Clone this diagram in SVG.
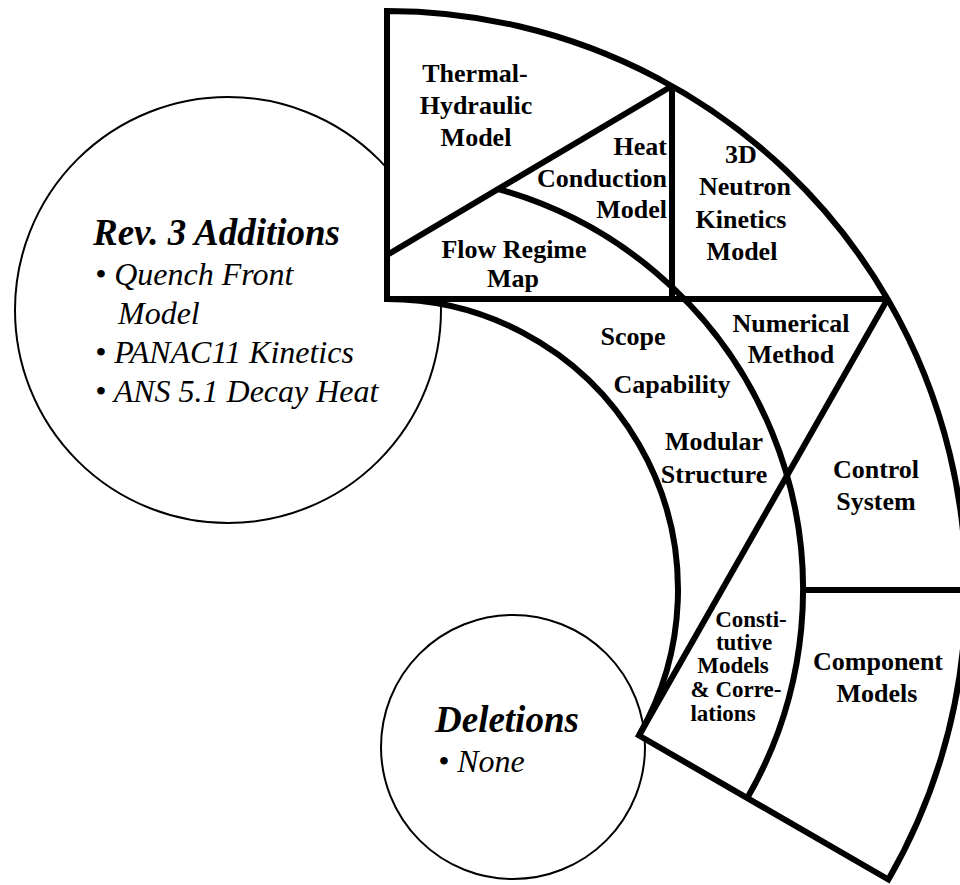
<svg xmlns="http://www.w3.org/2000/svg" width="960" height="885" viewBox="0 0 960 885">
<style>
.circ{fill:#fff;stroke:#000;stroke-width:2}
.ring{fill:#fff;stroke:#000;stroke-width:6;stroke-linejoin:miter}
.div{fill:none;stroke:#000;stroke-width:6;stroke-linecap:butt}
.lbl{font-family:"Liberation Serif","Times New Roman",serif;font-weight:bold;font-size:26px;fill:#000;text-anchor:middle}
.sm{font-size:23px}
.rt{text-anchor:end}
.head{font-family:"Liberation Serif","Times New Roman",serif;font-weight:bold;font-style:italic;font-size:37px;fill:#000}
.item{font-family:"Liberation Serif","Times New Roman",serif;font-style:italic;font-size:32px;fill:#000}
</style>
<rect width="960" height="885" fill="#fff"/>
<g id="rev3-additions">
<circle class="circ" cx="228" cy="310" r="213"/>
</g>
<g id="deletions">
<circle class="circ" cx="513" cy="747" r="132"/>
</g>
<g id="ring">
<path class="ring" d="M 387 11 A 579 579 0 0 1 888.4 879.5 L 639 735.5 A 291 291 0 0 0 387 299 Z"/>
</g>
<g id="connectors">
<line class="div" x1="387" y1="299" x2="887.6" y2="299"/>
<line class="div" x1="387" y1="255" x2="672" y2="86"/>
<line class="div" x1="672" y1="86" x2="672" y2="299"/>
<path class="div" d="M 498.1 189.1 A 416 416 0 0 1 747.3 798"/>
<line class="div" x1="887.6" y1="299" x2="639" y2="735.5"/>
<line class="div" x1="803" y1="590" x2="966" y2="590"/>
</g>
<g id="thermal-hydraulic">
<text class="lbl" x="475" y="82">Thermal-</text>
<text class="lbl" x="476" y="114">Hydraulic</text>
<text class="lbl" x="476" y="146">Model</text>
</g>
<g id="heat-conduction">
<text class="lbl rt" x="667" y="155">Heat</text>
<text class="lbl rt" x="667" y="187">Conduction</text>
<text class="lbl rt" x="667" y="218">Model</text>
</g>
<g id="flow-regime">
<text class="lbl" x="514" y="258">Flow Regime</text>
<text class="lbl" x="513" y="287">Map</text>
</g>
<g id="neutron-kinetics">
<text class="lbl" x="741" y="163">3D</text>
<text class="lbl" x="745" y="195">Neutron</text>
<text class="lbl" x="741" y="228">Kinetics</text>
<text class="lbl" x="742" y="260">Model</text>
</g>
<g id="numerical-method">
<text class="lbl" x="791" y="332">Numerical</text>
<text class="lbl" x="791" y="363">Method</text>
</g>
<g id="scope">
<text class="lbl" x="633" y="345">Scope</text>
<text class="lbl" x="672" y="393">Capability</text>
<text class="lbl" x="714" y="450">Modular</text>
<text class="lbl" x="714" y="483">Structure</text>
</g>
<g id="control-system">
<text class="lbl" x="876" y="478">Control</text>
<text class="lbl" x="876" y="510">System</text>
</g>
<g id="constitutive">
<text class="lbl sm" x="751" y="627">Consti-</text>
<text class="lbl sm" x="744" y="650">tutive</text>
<text class="lbl sm" x="733" y="673">Models</text>
<text class="lbl sm" x="736" y="697">&amp; Corre-</text>
<text class="lbl sm" x="723" y="721">lations</text>
</g>
<g id="component-models">
<text class="lbl" x="878" y="670">Component</text>
<text class="lbl" x="877" y="702">Models</text>
</g>
<g id="rev3-text">
<text class="head" x="93" y="245">Rev. 3 Additions</text>
<text class="item" x="95" y="285">• Quench Front</text>
<text class="item" x="118" y="324">Model</text>
<text class="item" x="95" y="363">• PANAC11 Kinetics</text>
<text class="item" x="95" y="402">• ANS 5.1 Decay Heat</text>
</g>
<g id="deletions-text">
<text class="head" x="435" y="732">Deletions</text>
<text class="item" x="438" y="772">• None</text>
</g>
</svg>
